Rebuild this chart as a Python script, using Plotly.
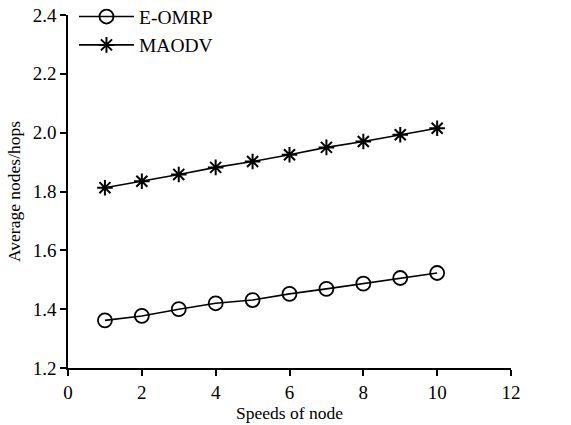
import plotly.graph_objects as go

speeds = [1, 2, 3, 4, 5, 6, 7, 8, 9, 10]
eomrp = [1.362, 1.377, 1.400, 1.420, 1.431, 1.452, 1.469, 1.487, 1.506, 1.523]
maodv = [1.813, 1.835, 1.858, 1.882, 1.902, 1.925, 1.950, 1.970, 1.993, 2.015]

FAM = "Liberation Serif, Times New Roman, serif"
font = dict(family=FAM, size=19, color="black")

fig = go.Figure()
fig.add_trace(go.Scatter(
    x=speeds, y=eomrp, name="E-OMRP", mode="lines+markers",
    line=dict(color="black", width=1.6),
    marker=dict(symbol="circle-open", size=14, color="black", line=dict(width=1.8, color="black")),
))
fig.add_trace(go.Scatter(
    x=speeds, y=maodv, name="MAODV", mode="lines+markers",
    line=dict(color="black", width=1.6),
    marker=dict(symbol="asterisk-open", size=13, color="black", line=dict(width=2, color="black")),
))

fig.update_layout(
    width=571, height=425,
    margin=dict(l=68, r=60, t=15, b=57, autoexpand=False),
    paper_bgcolor="white", plot_bgcolor="white",
    font=font,
    showlegend=True,
    legend=dict(x=0.0135, y=1.05, xanchor="left", yanchor="top",
                bgcolor="rgba(0,0,0,0)", font=dict(family=FAM, size=19.5, color="black"),
                tracegroupgap=0, itemwidth=55),
)
fig.update_xaxes(
    range=[0, 12], dtick=2, tick0=0, showgrid=False, zeroline=False, automargin=False,
    showline=True, linecolor="black", linewidth=1.6,
    ticks="outside", ticklen=6, tickwidth=2, tickcolor="black",
    tickfont=dict(family=FAM, size=19, color="black"), ticklabeloverflow="allow",
    title=dict(text="Speeds of node", standoff=2, font=dict(family=FAM, size=17.5, color="black")),
)
fig.update_yaxes(
    range=[1.2, 2.4], dtick=0.2, tick0=1.2, tickformat=".1f", showgrid=False, zeroline=False, automargin=False,
    showline=True, linecolor="black", linewidth=1.6,
    ticks="outside", ticklen=6, tickwidth=2, tickcolor="black",
    tickfont=dict(family=FAM, size=19, color="black"), ticklabeloverflow="allow",
    title=dict(text="Average nodes/hops", standoff=8, font=dict(family=FAM, size=17.5, color="black")),
)

# remove the browser's default 8px body margin so the figure fills the window
fig.write_html("out.html", config={"displayModeBar": False},
               post_script="document.body.style.margin='0';")
